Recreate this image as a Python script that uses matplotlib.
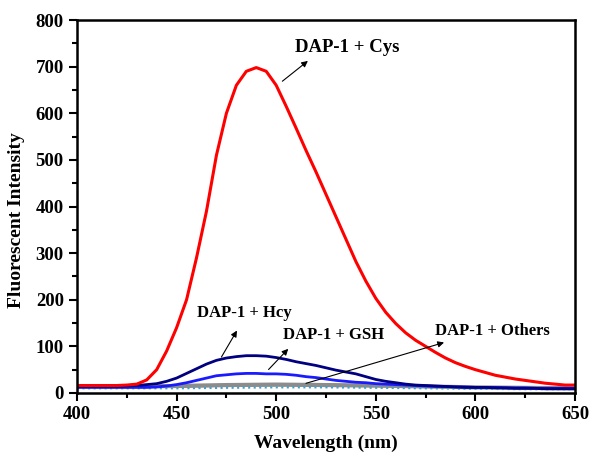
import matplotlib
matplotlib.use("Agg")
import matplotlib.pyplot as plt
from matplotlib.ticker import MultipleLocator

plt.rcParams['font.family'] = ['Liberation Serif', 'DejaVu Serif']
plt.rcParams['font.weight'] = 'bold'

wavelength = list(range(400, 651, 5))

cys = [16, 16, 16, 16, 16, 17, 19, 28, 50, 90, 140, 200, 290, 390, 510, 600, 660, 690,
       698, 690, 660, 615, 568, 520, 474, 426, 378, 330, 282, 240, 203, 173, 149, 129,
       113, 100, 87, 75, 65, 57, 50, 44, 38, 34, 30, 27, 24, 21, 19, 17, 17]

hcy = [14, 14, 14, 14, 14, 15, 16, 18, 20, 25, 32, 42, 52, 62, 70, 75, 78, 80,
       80, 79, 76, 72, 67, 63, 59, 54, 49, 45, 41, 35, 29, 25, 22, 19, 17, 16, 15, 14,
       13, 12, 12, 12, 11, 11, 10, 10, 10, 9, 9, 9, 9]

gsh = [12, 12, 12, 12, 12, 12, 12, 12, 13, 15, 18, 22, 27, 32, 37, 39, 41, 42,
       42, 41, 41, 40, 38, 35, 33, 30, 27, 25, 23, 22, 20, 19, 18, 17, 16, 15, 14, 14,
       13, 13, 12, 12, 12, 11, 11, 11, 10, 10, 10, 10, 10]

others_wl = [400, 425, 450, 475, 500, 525, 550, 575, 600, 625, 650]
others_gray = [14, 14, 15, 17, 18, 17, 16, 14, 12, 11, 10]
others_magenta = [16, 16, 16, 18, 19, 18, 16, 14, 12, 11, 11]
others_olive = [13, 13, 13, 15, 16, 15, 14, 13, 11, 10, 10]
others_cyan = [10, 10, 10, 11, 12, 12, 11, 10, 9, 8, 8]

fig = plt.figure(figsize=(5.9, 4.55), dpi=100)
ax = fig.add_axes([0.1305, 0.1363, 0.8441, 0.8197])

ax.plot(others_wl, others_olive, color='#7a8a3a', lw=1.2)
ax.plot(others_wl, others_magenta, color='#e040e0', lw=1.2)
ax.plot(others_wl, others_gray, color='#8c8c8c', lw=3)
ax.plot(others_wl, others_cyan, color='#3fa0d0', lw=1.5, ls=':')
ax.plot(wavelength, gsh, color='#1a1aff', lw=2)
ax.plot(wavelength, hcy, color='#000080', lw=2)
ax.plot(wavelength, cys, color='#ff0000', lw=2.2)

ax.set_xlim(400, 650)
ax.set_ylim(0, 800)
ax.xaxis.set_major_locator(MultipleLocator(50))
ax.xaxis.set_minor_locator(MultipleLocator(25))
ax.yaxis.set_major_locator(MultipleLocator(100))
ax.yaxis.set_minor_locator(MultipleLocator(50))
ax.tick_params(which='both', direction='out', width=1.5, top=False, right=False,
               labelsize=13.5)
ax.tick_params(which='major', length=6)
ax.tick_params(which='minor', length=3.5)
for lab in ax.get_xticklabels() + ax.get_yticklabels():
    lab.set_fontweight('bold')
for sp in ax.spines.values():
    sp.set_linewidth(1.8)

ax.set_xlabel('Wavelength (nm)', fontsize=14, fontweight='bold', labelpad=8)
ax.set_ylabel('Fluorescent Intensity', fontsize=14, fontweight='bold')
ax.yaxis.set_label_coords(-0.104, 0.464)

arrow = dict(arrowstyle='-|>', color='black', lw=0.8, mutation_scale=9)
ax.annotate('', xy=(517, 716), xytext=(502, 665), arrowprops=arrow)
ax.text(509.4, 742, 'DAP-1 + Cys', fontsize=13.5, fontweight='bold', va='center', ha='left')

ax.annotate('', xy=(481, 139), xytext=(471.8, 72), arrowprops=arrow)
ax.text(460, 172, 'DAP-1 + Hcy', fontsize=12, fontweight='bold', va='center', ha='left')

ax.annotate('', xy=(507, 99), xytext=(495.2, 46), arrowprops=arrow)
ax.text(503.6, 124, 'DAP-1 + GSH', fontsize=12, fontweight='bold', va='center', ha='left')

ax.annotate('', xy=(585.6, 110), xytext=(513.6, 19), arrowprops=arrow)
ax.text(579.7, 134, 'DAP-1 + Others', fontsize=12, fontweight='bold', va='center', ha='left')

fig.savefig('out.png', dpi=100)
